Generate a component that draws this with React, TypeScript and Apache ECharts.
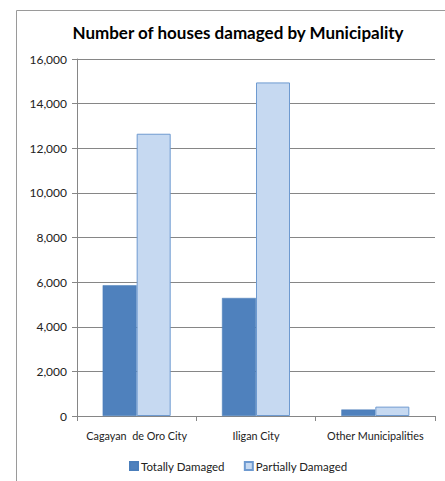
import React, { useEffect, useRef } from "react";
import * as echarts from "echarts";

const categories = ["Cagayan  de Oro City", "Iligan City", "Other Municipalities"];
const totallyDamaged = [5860, 5290, 290];
const partiallyDamaged = [12650, 14950, 420];
const seriesNames = ["Totally Damaged", "Partially Damaged"];
const title = "Number of houses damaged by Municipality";

const FONT = "Lato, 'Open Sans', sans-serif";

export default function App() {
  const ref = useRef<HTMLDivElement>(null);
  useEffect(() => {
    if (!ref.current) return;
    const chart = echarts.init(ref.current, undefined, { renderer: "svg" });
    chart.setOption({
      animation: false,
      backgroundColor: "#ffffff",
      title: {
        text: title,
        left: 233,
        textAlign: "center",
        top: 19,
        textStyle: { fontFamily: FONT, fontWeight: "bold", fontSize: 17, color: "#000" },
      },
      graphic: [
        { type: "line", shape: { x1: 16.5, y1: 10.5, x2: 445, y2: 10.5 }, style: { stroke: "#9a9a9a", lineWidth: 1 } },
        { type: "line", shape: { x1: 16.5, y1: 10.5, x2: 16.5, y2: 481 }, style: { stroke: "#9a9a9a", lineWidth: 1 } },
      ],
      legend: {
        bottom: 4,
        left: 124,
        itemWidth: 8,
        itemHeight: 8,
        itemGap: 19,
        icon: "rect",
        textStyle: { fontFamily: FONT, fontSize: 11.5, color: "#222", padding: [0, 0, 0, -2] },
        data: seriesNames,
      },
      grid: { left: 77, right: 10, top: 59, bottom: 65, containLabel: false },
      xAxis: {
        type: "category",
        data: categories,
        axisLine: { lineStyle: { color: "#868686" } },
        axisTick: { show: true, length: 5, alignWithLabel: false, lineStyle: { color: "#868686" } },
        axisLabel: { fontFamily: FONT, fontSize: 10.8, color: "#222", margin: 14, interval: 0 },
      },
      yAxis: {
        type: "value",
        min: 0,
        max: 16000,
        interval: 2000,
        axisLine: { show: true, lineStyle: { color: "#868686" } },
        axisTick: { show: true, length: 5, lineStyle: { color: "#868686" } },
        splitLine: { lineStyle: { color: "#868686" } },
        axisLabel: {
          fontFamily: FONT,
          fontSize: 12,
          color: "#222",
          margin: 10,
          formatter: (v: number) => v.toLocaleString("en-US"),
        },
      },
      series: [
        {
          name: seriesNames[0],
          type: "bar",
          data: totallyDamaged,
          barGap: "0%",
          barCategoryGap: "43%",
          itemStyle: { color: "#4F81BD", borderColor: "#4A7EBB", borderWidth: 0.5 },
        },
        {
          name: seriesNames[1],
          type: "bar",
          data: partiallyDamaged,
          itemStyle: { color: "#C6D9F1", borderColor: "#6E9AD0", borderWidth: 1 },
        },
      ],
    });
    return () => chart.dispose();
  }, []);
  return (
    <div
      ref={ref}
      style={{ position: "absolute", left: 0, top: 0, width: 445, height: 481 }}
    />
  );
}
